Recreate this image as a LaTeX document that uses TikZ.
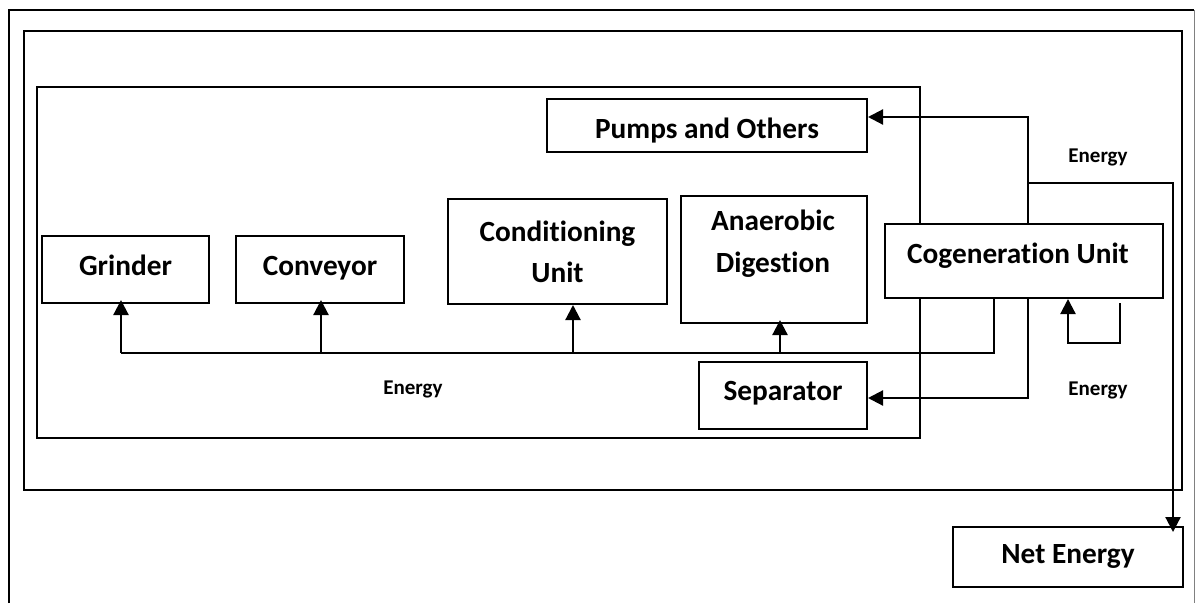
\documentclass[tikz,border=0pt]{standalone}
\usepackage{fontspec}
\setmainfont{Carlito}[Ligatures=NoCommon]
\usetikzlibrary{arrows.meta}
\begin{document}
\begin{tikzpicture}[x=1pt,y=-1pt,
  box/.style={draw, fill=white, line width=2pt, inner sep=0pt, anchor=north west,
    font=\bfseries\fontsize{29.3}{41}\selectfont, align=center},
  bl/.style={text depth=5pt, text height=#1},
  lab/.style={font=\bfseries\fontsize{21}{24}\selectfont},
  twoline/.style={font=\bfseries\fontsize{29.3}{42}\selectfont, align=center, inner sep=0pt},
  frame/.style={draw, line width=2pt},
  ln/.style={line width=2.2pt},
  arr/.style={line width=2.2pt, -{Triangle[length=15pt,width=15pt]}}]
\useasboundingbox (0,0) rectangle (1196,603);
\fill[white] (0,0) rectangle (1196,603);
% frames
\draw[frame] (9,603) -- (9,10) -- (1194,10);
\draw[gray, line width=1pt] (1194,10) -- (1194,603);
\draw[frame] (24,31) rectangle (1182,490);
\draw[frame] (37,87) rectangle (920,438);
% boxes
\node[box, bl=16pt, minimum width=167, minimum height=67] (gr) at (41,235) {Grinder};
\node[box, bl=16pt, minimum width=168, minimum height=67] (cv) at (235,235) {Conveyor};
\node[box, minimum width=219, minimum height=105] (cu) at (447,198) {Conditioning\\Unit};
\node[box, minimum width=186, minimum height=127] (ad) at (680,195) {};
\node[twoline] (adt) at (773,244) {Anaerobic\\Digestion};
\node[box, bl=30pt, minimum width=320, minimum height=53] (po) at (546,98) {Pumps and Others};
\node[box, bl=9pt, minimum width=278, minimum height=74] (cg) at (884,223) {Cogeneration Unit\hspace*{12pt}};
\node[box, bl=14pt, minimum width=168, minimum height=67] (sp) at (698,361) {Separator};
\node[box, bl=17pt, minimum width=230, minimum height=60] (ne) at (952,526) {Net Energy};
% labels
\node[lab] (e1) at (413,389) {Energy};
\node[lab] (e2) at (1098,157) {Energy};
\node[lab] (e3) at (1098,390) {Energy};
% coordinates
\coordinate (pin) at (1028,117);
\coordinate (j1) at (1028,183);
\coordinate (nk) at (1173,183);
\coordinate (bus) at (994,353);
\coordinate (bg) at (121,353);
\coordinate (bc) at (321,353);
\coordinate (bu) at (573,353);
\coordinate (ba) at (780,353);
\coordinate (sk) at (1028,398);
\coordinate (l1) at (1120,303);
\coordinate (l2) at (1068,343);
% connectors
\draw[arr] (cg.north -| pin) -- (pin) -- (po.east |- pin);
\draw[arr] (j1) -- (nk) -- ([yshift=-6pt]ne.north -| nk);
\draw[ln] (cg.south -| bus) -- (bus) -- (bg);
\draw[arr] (bg) -- ([yshift=4pt]gr.south -| bg);
\draw[arr] (bc) -- ([yshift=4pt]cv.south -| bc);
\draw[arr] (bu) -- (cu.south -| bu);
\draw[arr] (ba) -- ([yshift=4pt]ad.south -| ba);
\draw[arr] (cg.south -| sk) -- (sk) -- (sp.east |- sk);
\draw[arr] (l1) |- (l2) -- (cg.south -| l2);
\end{tikzpicture}
\end{document}
